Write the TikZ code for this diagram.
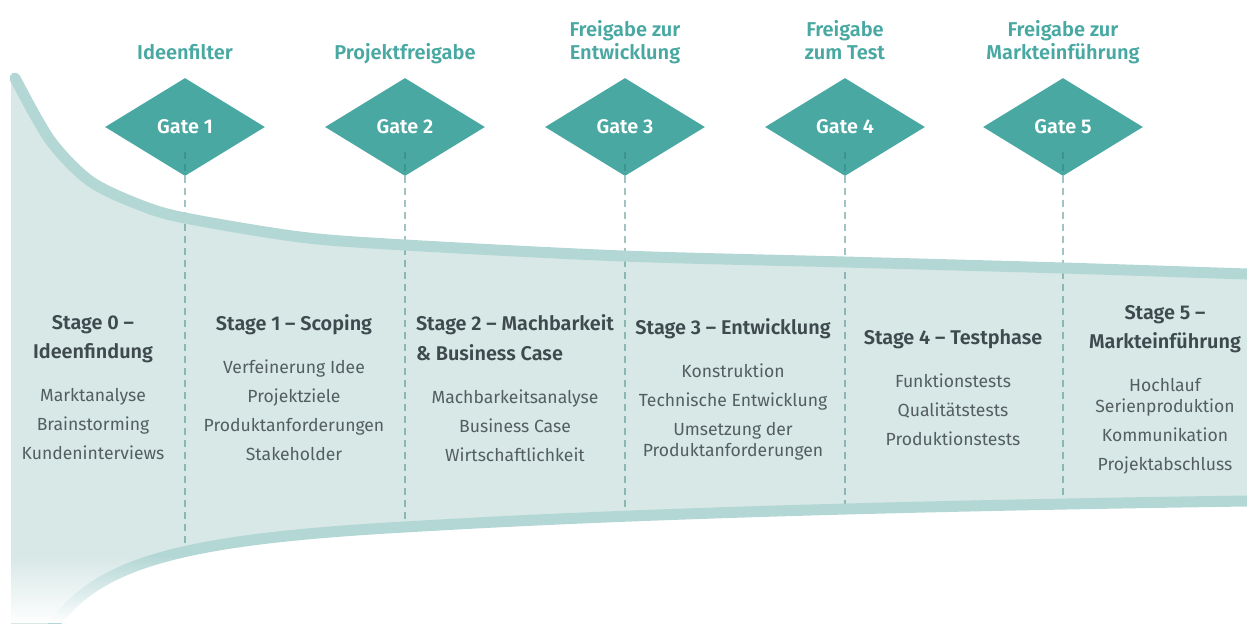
\documentclass[tikz,border=0pt]{standalone}
\usepackage{fontspec}
\setmainfont{Fira Sans}[BoldFont={Fira Sans SemiBold}]
\usetikzlibrary{shapes.geometric,fadings}

\definecolor{gateteal}{HTML}{49A8A2}
\definecolor{funnelfill}{HTML}{D7E8E7}
\definecolor{funnelrim}{HTML}{B3D7D5}
\definecolor{headgrey}{HTML}{3E4A4D}
\definecolor{itemgrey}{HTML}{545E61}
\definecolor{gateline}{HTML}{2A7C77}

\tikzfading[name=fade to white, top color=transparent!100, bottom color=transparent!0]

\newcommand{\stagetitle}[1]{{\fontsize{11.3}{12}\selectfont\bfseries\color{headgrey}#1}}

\begin{document}
\begin{tikzpicture}[x=0.02cm, y=-0.02cm,
	gate/.style={shape=diamond, fill=gateteal, text=white, font=\fontsize{11.3}{12}\selectfont\bfseries, minimum width=3.2cm, minimum height=1.96cm, inner sep=0pt},
	gatelabel/.style={anchor=south, align=center, text=gateteal, font=\fontsize{11.4}{13}\selectfont\bfseries, inner sep=0pt, execute at end node=\strut},
	stage/.style={align=center, text=itemgrey, font=\fontsize{10}{12}\selectfont, inner sep=0pt},
	rim/.style={draw=funnelrim, line width=0.22cm},
	gatecut/.style={draw=gateline, draw opacity=0.45, line width=0.7pt, dash pattern=on 0.14cm off 0.1cm}]

	\useasboundingbox (0,0) rectangle (1247,623);

	% Funnel body
	\fill[funnelfill] (11,80) -- plot[smooth] coordinates {(15,78) (50,140) (90,181) (140,205) (185,218) (300,237) (405,245) (623,256) (845,262) (1063,268) (1247,274)}
		-- (1247,501) .. controls (900,506) and (620,514) .. (405,527) .. controls (170,540) and (95,565) .. (50,630)
		-- (11,630) -- cycle;

	% Gates
	\node[gate] (g1) at (185,127) {Gate 1};
	\node[gate] (g2) at (405,127) {Gate 2};
	\node[gate] (g3) at (625,127) {Gate 3};
	\node[gate] (g4) at (845,127) {Gate 4};
	\node[gate] (g5) at (1063,127) {Gate 5};

	% bottom ends of the gate lines
	\coordinate (b1) at (185,551);
	\coordinate (b2) at (405,527);
	\coordinate (b3) at (625,516);
	\coordinate (b4) at (845,509);
	\coordinate (b5) at (1063,505);

	\draw[gatecut] ([yshift=-0.5cm]g1.center) -- (b1);
	\draw[gatecut] ([yshift=-0.5cm]g2.center) -- (b2);
	\draw[gatecut] ([yshift=-0.5cm]g3.center) -- (b3);
	\draw[gatecut] ([yshift=-0.5cm]g4.center) -- (b4);
	\draw[gatecut] ([yshift=-0.5cm]g5.center) -- (b5);

	% Funnel rims
	\draw[rim, line cap=round] plot[smooth] coordinates {(15,78) (50,140) (90,181) (140,205) (185,218) (300,237) (405,245) (623,256) (845,262) (1063,268) (1247,274)};
	\draw[rim] (50,630) .. controls (95,565) and (170,540) .. (405,527) .. controls (620,514) and (900,506) .. (1247,501);

	% mouth of the funnel fades out
	\fill[white, path fading=fade to white] (0,555) rectangle (240,623);

	% Gate labels
	\node[gatelabel] (l1) at (185,67) {Ideenfilter};
	\node[gatelabel] (l2) at (405,67) {Projektfreigabe};
	\node[gatelabel] (l3) at (625,67) {Freigabe zur\\Entwicklung};
	\node[gatelabel] (l4) at (845,67) {Freigabe\\zum Test};
	\node[gatelabel] (l5) at (1063,67) {Freigabe zur\\Markteinführung};

	% Stages
	\node[stage] (s0) at (93,388) {\stagetitle{Stage 0 –}\\[4.5pt]\stagetitle{Ideenfindung}\\[12.5pt]Marktanalyse\\[4.5pt]Brainstorming\\[4.5pt]Kundeninterviews};
	\node[stage] (s1) at (294,388) {\stagetitle{Stage 1 – Scoping}\\[12.5pt]Verfeinerung Idee\\[4.5pt]Projektziele\\[4.5pt]Produktanforderungen\\[4.5pt]Stakeholder};
	\node[stage] (s2) at (515,388) {\stagetitle{\begin{tabular}[b]{@{}l@{}}Stage 2 – Machbarkeit\\[4.5pt]\& Business Case\end{tabular}}\\[12.5pt]Machbarkeitsanalyse\\[4.5pt]Business Case\\[4.5pt]Wirtschaftlichkeit};
	\node[stage] (s3) at (733,389) {\stagetitle{Stage 3 – Entwicklung}\\[12.5pt]Konstruktion\\[4.5pt]Technische Entwicklung\\[4.5pt]Umsetzung der\\Produktanforderungen};
	\node[stage] (s4) at (953,388) {\stagetitle{Stage 4 – Testphase}\\[12.5pt]Funktionstests\\[4.5pt]Qualitätstests\\[4.5pt]Produktionstests};
	\node[stage] (s5) at (1165,390) {\stagetitle{Stage 5 –}\\[4.5pt]\stagetitle{Markteinführung}\\[12.5pt]Hochlauf\\Serienproduktion\\[4.5pt]Kommunikation\\[4.5pt]Projektabschluss};

\end{tikzpicture}
\end{document}
